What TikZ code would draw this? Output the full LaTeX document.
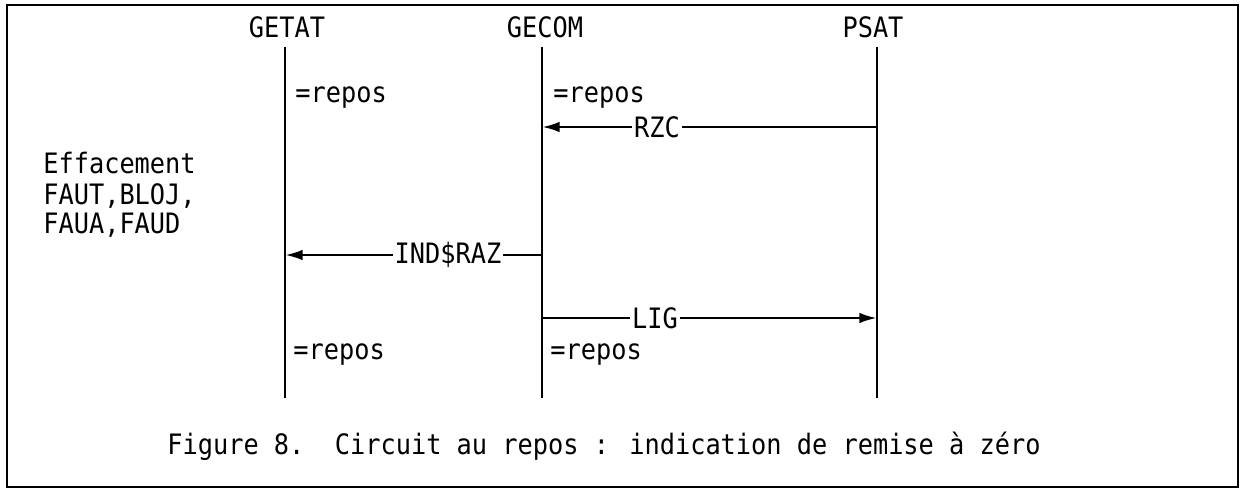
\documentclass[tikz,border=0pt]{standalone}
\usepackage{fontspec}
\usetikzlibrary{arrows.meta}
\newfontfamily\typew[FakeStretch=0.9]{DejaVu Sans Mono}

\begin{document}
\begin{tikzpicture}[x=0.02cm,y=-0.02cm,>={Latex[length=10pt,width=6pt]}]
\tikzstyle{txt}=[font=\typew\fontsize{16pt}{19pt}\selectfont,inner sep=0pt,anchor=base west]
\tikzstyle{head}=[txt,anchor=base]
\tikzstyle{life}=[line width=1.6pt]
\tikzstyle{msg}=[line width=1.5pt]
\tikzstyle{tag}=[font=\typew\fontsize{16pt}{19pt}\selectfont,fill=white,inner xsep=1pt,inner ysep=0pt]
\useasboundingbox (0,0) rectangle (1244,491);
\draw[line width=1.4pt] (7,5) rectangle (1238,487);
% entities and lifelines
\node[head] (getat) at (287,37) {GETAT};
\node[head] (gecom) at (545,37) {GECOM};
\node[head] (psat) at (873,37) {PSAT};
\coordinate (getat-t) at (285,47); \coordinate (getat-b) at (285,398);
\coordinate (gecom-t) at (542,47); \coordinate (gecom-b) at (542,398);
\coordinate (psat-t) at (877,47); \coordinate (psat-b) at (877,398);
\draw[life] (getat-t)--(getat-b); \draw[life] (gecom-t)--(gecom-b); \draw[life] (psat-t)--(psat-b);
% states
\node[txt] (getat-r1) at (295,102) {=repos};
\node[txt] (gecom-r1) at (553,102) {=repos};
\node[txt] (getat-r2) at (293,359) {=repos};
\node[txt] (gecom-r2) at (550,359) {=repos};
\node[txt] (eff1) at (43,173) {Effacement};
\node[txt] (eff2) at (43,204) {FAUT,BLOJ,};
\node[txt] (eff3) at (43,233) {FAUA,FAUD};
% messages
\coordinate (psat-rzc) at (877,127); \coordinate (gecom-rzc) at (542,127);
\coordinate (gecom-ind) at (542,255); \coordinate (getat-ind) at (285,255);
\coordinate (gecom-lig) at (542,318); \coordinate (psat-lig) at (877,318);
\draw[->,msg] (psat-rzc) -- node[tag,pos=0.657] {RZC} (gecom-rzc);
\draw[->,msg] (gecom-ind) -- node[tag,pos=0.366] {IND\$RAZ} (getat-ind);
\draw[->,msg] (gecom-lig) -- node[tag,pos=0.337] {LIG} (psat-lig);
% caption
\node[txt] (caption) at (167,454) {Figure 8.\ \ Circuit au repos : indication de remise à zéro};
\end{tikzpicture}
\end{document}
